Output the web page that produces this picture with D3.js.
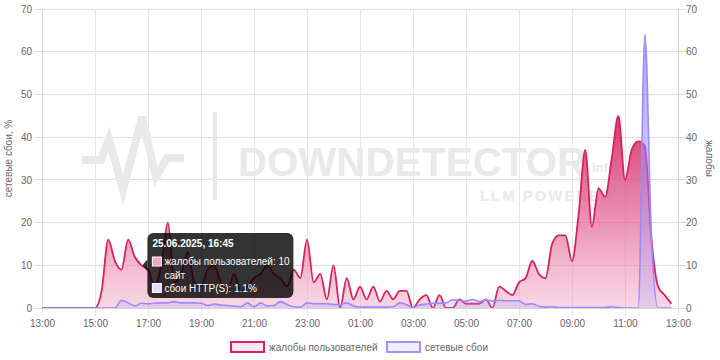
<!DOCTYPE html>
<html><head><meta charset="utf-8">
<script src="https://cdn.jsdelivr.net/npm/d3@7"></script>
<style>
body{margin:0;background:#fff}
svg{display:block}
text{font-family:"Liberation Sans",Arial,sans-serif}
</style>
</head><body>
<svg id="c" width="720" height="360"></svg>
<script>
// ---- data ----
const startTime = "2025-06-25T13:00:00";
const endTime = "2025-06-26T13:00:00";
const stepMinutes = 15;
const complaints = [0,0,0,0,0,0,0,0,0,4, 16,11,9,16,12,10,9,5,10,20, 6,8,13,6,5,9,10,6,4,8, 4,5,7,8,10,8,7,5,9,7, 16,6,8,2,10,0,7,2,5,2, 5,1.5,4,2,4,4,0,2,3,0, 3,0,0,2,1,1,1,2,0,5, 4,3,6,7,11,8,7,15,17,17, 11,22,37,19,28,26,35,45,30,37, 39,38,16,5,3,1];
const network = [0,0,0,0,0,0,0,0,0,0, 0,0,1.8,1.2,0.5,1.1,1.0,1.1,1.2,1.2, 1.5,1.2,1.2,1.2,1.1,0.6,0.9,0.7,0.6,0.4, 0.3,1.2,0.3,1.2,0.5,0.6,1.5,0.8,0.3,0.2, 1.2,1.0,1.0,1.0,0.8,0.8,1.2,0.5,0.2,0.2, 0.2,0.2,0.2,0.3,1.2,0.8,0.1,0.7,0.9,1.1, 1.1,1.2,1.9,1.8,1.6,2.0,1.5,1.9,1.6,1.8, 1.7,1.7,1.7,0.8,1.0,0.4,0.2,0.3,0.1,0.1, 0.1,0.1,0.1,0.1,0.1,0.1,0.3,0.1,0,0, 0,64,16,0,0,0];
const yTicks = [0,10,20,30,40,50,60,70];
const xTickLabels = ["13:00","15:00","17:00","19:00","21:00","23:00","01:00","03:00","05:00","07:00","09:00","11:00","13:00"];
const seriesNames = ["жалобы пользователей","сетевые сбои"];
const leftTitle = "сетевые сбои, %";
const rightTitle = "жалобы";
const tooltipIndex = 15;
const tooltipTitle = "25.06.2025, 16:45";
const tooltipComplaintsLabel = "жалобы пользователей";
const tooltipComplaintsExtra = "сайт";
const tooltipNetworkLabel = "сбои HTTP(S)";

// ---- layout ----
const svg = d3.select("#c");
const L = 42, R = 678, T = 9, B = 308;
const FS = 10;
const t0 = new Date(startTime), t1 = new Date(endTime);
const times = complaints.map((_, i) => new Date(t0.getTime() + i * stepMinutes * 60000));
const x = d3.scaleTime().domain([t0, t1]).range([L, R]);
const y = d3.scaleLinear().domain([0, 70]).range([B, T]);
const xTickDates = xTickLabels.map((_, i) => new Date(t0.getTime() + i * 2 * 3600000));

// gradients
const defs = svg.append("defs");
const g1 = defs.append("linearGradient").attr("id","pinkGrad").attr("gradientUnits","userSpaceOnUse")
  .attr("x1",0).attr("x2",0).attr("y1",y(45)).attr("y2",y(0));
g1.append("stop").attr("offset",0).attr("stop-color","rgb(208,40,100)").attr("stop-opacity",0.93);
g1.append("stop").attr("offset",0.6).attr("stop-color","rgb(230,110,155)").attr("stop-opacity",0.7);
g1.append("stop").attr("offset",1).attr("stop-color","rgb(238,160,192)").attr("stop-opacity",0.42);
const g2 = defs.append("linearGradient").attr("id","blueGrad").attr("gradientUnits","userSpaceOnUse")
  .attr("x1",0).attr("x2",0).attr("y1",y(64)).attr("y2",y(0));
g2.append("stop").attr("offset",0).attr("stop-color","rgb(140,122,255)").attr("stop-opacity",0.7);
g2.append("stop").attr("offset",1).attr("stop-color","rgb(170,160,255)").attr("stop-opacity",0.25);

// grid
const grid = svg.append("g");
grid.selectAll(".hg").data(yTicks).join("line")
  .attr("x1", L - 8).attr("x2", R + 8).attr("y1", d => y(d)).attr("y2", d => y(d))
  .attr("stroke", "#dcdcdc").attr("stroke-width", 1).attr("shape-rendering","crispEdges");
grid.selectAll(".vg").data(xTickDates).join("line")
  .attr("x1", d => x(d)).attr("x2", d => x(d)).attr("y1", T).attr("y2", B + 8)
  .attr("stroke", "#e6e6e6").attr("stroke-width", 1).attr("shape-rendering","crispEdges");
svg.append("line").attr("x1",L).attr("x2",L).attr("y1",T).attr("y2",B).attr("stroke","#d4d4d4").attr("shape-rendering","crispEdges");
svg.append("line").attr("x1",R).attr("x2",R).attr("y1",T).attr("y2",B).attr("stroke","#d4d4d4").attr("shape-rendering","crispEdges");

// watermark
const wmc = "#e8e9eb";
const wm = svg.append("g");
wm.append("path").attr("d","M82,160 L101,160 L109,139 L123,190 L142,117 L156,177 L167,158 L184,158")
  .attr("fill","none").attr("stroke",wmc).attr("stroke-width",8).attr("stroke-linejoin","miter");
wm.append("rect").attr("x",213).attr("y",112).attr("width",4).attr("height",88).attr("fill",wmc);
const brand = wm.append("text").attr("x",238).attr("y",176).attr("font-size",49).attr("font-weight","bold")
  .attr("font-family","'Liberation Sans Narrow','Arial Narrow','Liberation Sans',sans-serif")
  .attr("fill",wmc).text("DOWNDETECTOR");
{
  const w = brand.node().getComputedTextLength();
  if (w > 0 && Math.abs(w - 348) > 4) brand.attr("font-size", 49 * 348 / w);
}
wm.append("text").attr("x",592).attr("y",172).attr("font-size",13).attr("font-weight","bold")
  .attr("fill",wmc).text("info");
const llm = wm.append("text").attr("x",480).attr("y",201).attr("font-size",15).attr("font-weight","bold")
  .attr("fill",wmc).text("LLM POWERED");
{
  const w = llm.node().getComputedTextLength();
  if (w > 0 && w < 132) llm.attr("letter-spacing", (132 - w) / 10);
}

// series
const area = d3.area().x((d,i) => x(times[i])).y0(y(0)).y1(d => y(d)).curve(d3.curveMonotoneX);
const line = d3.line().x((d,i) => x(times[i])).y(d => y(d)).curve(d3.curveMonotoneX);

svg.append("path").datum(complaints).attr("d", area).attr("fill","url(#pinkGrad)");
svg.append("path").datum(complaints).attr("d", line).attr("fill","none").attr("stroke","#dc1f5e").attr("stroke-width",1.8);
svg.append("path").datum(network).attr("d", area).attr("fill","url(#blueGrad)");
svg.append("path").datum(network).attr("d", line).attr("fill","none").attr("stroke","#9a8aff").attr("stroke-width",1.6);

// axes
const axL = svg.append("g").attr("transform",`translate(${L},0)`)
  .call(d3.axisLeft(y).tickValues(yTicks).tickSize(0).tickPadding(10));
const axR = svg.append("g").attr("transform",`translate(${R},0)`)
  .call(d3.axisRight(y).tickValues(yTicks).tickSize(0).tickPadding(8));
const axB = svg.append("g").attr("transform",`translate(0,${B})`)
  .call(d3.axisBottom(x).tickValues(xTickDates).tickFormat((d,i) => xTickLabels[i]).tickSize(0).tickPadding(12));
[axL, axR, axB].forEach(a => {
  a.select(".domain").remove();
  a.selectAll("text").attr("fill","#666").attr("font-size",FS).attr("font-family","'Liberation Sans',Arial,sans-serif");
});
svg.append("line").attr("x1",L).attr("x2",R).attr("y1",B).attr("y2",B).attr("stroke","#d4d4d4").attr("shape-rendering","crispEdges");

// axis titles
svg.append("text").attr("transform",`translate(12,${(T+B)/2}) rotate(-90)`).attr("text-anchor","middle")
  .attr("font-size",FS).attr("fill","#666").text(leftTitle);
svg.append("text").attr("transform",`translate(706,${(T+B)/2}) rotate(90)`).attr("text-anchor","middle")
  .attr("font-size",FS).attr("fill","#666").text(rightTitle);

// legend
const legend = svg.append("g");
const legItems = [
  {name: seriesNames[0], x: 231, stroke: "#dc1f5e", fill: "#fde6ee"},
  {name: seriesNames[1], x: 387, stroke: "#a393ff", fill: "#f1efff"}
];
legItems.forEach(it => {
  legend.append("rect").attr("x", it.x).attr("y", 342).attr("width", 33).attr("height", 10)
    .attr("fill", it.fill).attr("stroke", it.stroke).attr("stroke-width", 2);
  legend.append("text").attr("x", it.x + 38).attr("y", 347.5).attr("dominant-baseline","central")
    .attr("font-size", FS).attr("fill", "#666").text(it.name);
});

// tooltip
const px = x(times[tooltipIndex]), py = y(complaints[tooltipIndex]);
const tt = svg.append("g");
const tx = px + 6, ty = 233, tw = 146, th = 65;
tt.append("path").attr("d", `M${tx},${py-6} L${px+1},${py} L${tx},${py+6} Z`).attr("fill","rgba(0,0,0,0.8)");
tt.append("rect").attr("x", tx).attr("y", ty).attr("width", tw).attr("height", th).attr("rx", 6).attr("fill","rgba(0,0,0,0.8)");
tt.append("text").attr("x", tx + 5).attr("y", ty + 10.5).attr("dominant-baseline","central")
  .attr("font-size",FS).attr("font-weight","bold").attr("fill","#fff").text(tooltipTitle);
tt.append("rect").attr("x", tx + 5).attr("y", ty + 24).attr("width", 9).attr("height", 9)
  .attr("fill","#f4a3c0").attr("stroke","#fff").attr("stroke-width",1);
tt.append("text").attr("x", tx + 17).attr("y", ty + 28.5).attr("dominant-baseline","central")
  .attr("font-size",FS).attr("fill","#fff").text(`${tooltipComplaintsLabel}: ${complaints[tooltipIndex]}`);
tt.append("text").attr("x", tx + 17).attr("y", ty + 42).attr("dominant-baseline","central")
  .attr("font-size",FS).attr("fill","#fff").text(tooltipComplaintsExtra);
tt.append("rect").attr("x", tx + 5).attr("y", ty + 50.5).attr("width", 9).attr("height", 9)
  .attr("fill","#e2ddff").attr("stroke","#fff").attr("stroke-width",1);
tt.append("text").attr("x", tx + 17).attr("y", ty + 55.5).attr("dominant-baseline","central")
  .attr("font-size",FS).attr("fill","#fff").text(`${tooltipNetworkLabel}: ${network[tooltipIndex]}%`);
</script>
</body></html>
